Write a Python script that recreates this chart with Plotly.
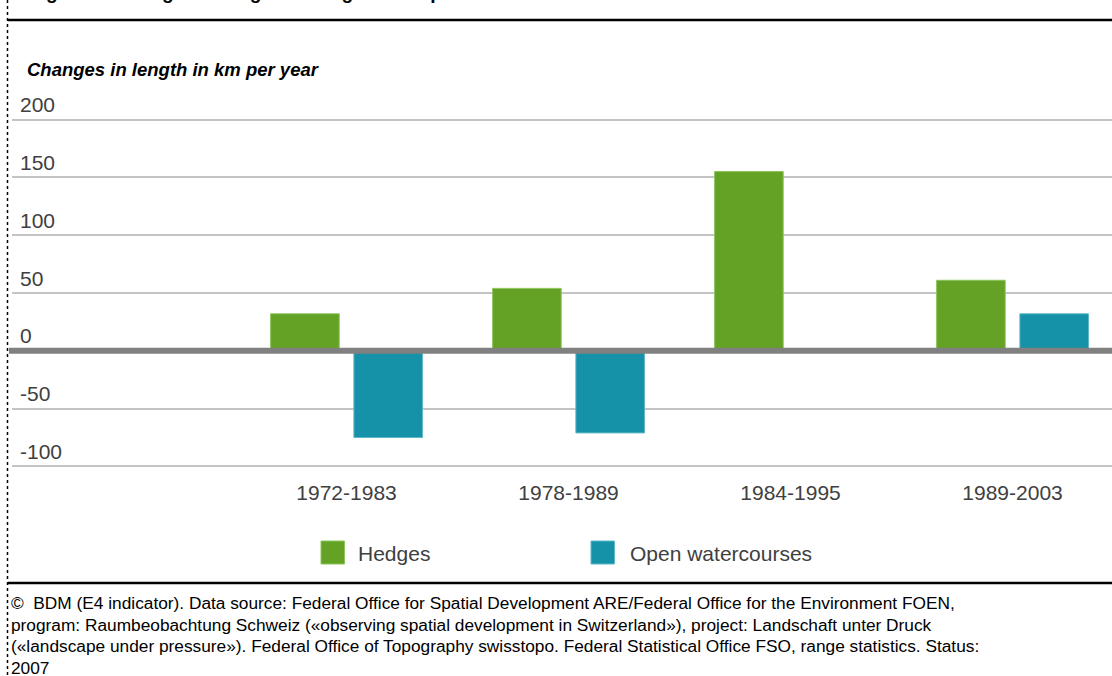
import plotly.graph_objects as go

# ---- data ----
periods = ["1972-1983", "1978-1989", "1984-1995", "1989-2003"]
hedges = [32, 54, 155, 61]
watercourses = [-75, -71, None, 32]
series_names = ["Hedges", "Open watercourses"]
y_ticks = [-100, -50, 0, 50, 100, 150, 200]
y_tick_labels = ["-100", "-50", "0", "50", "100", "150", "200"]

title_text = "Figure 1: Changes in length of hedges and open watercourses"
subtitle_text = "Changes in length in km per year"
footer_lines = [
    "©\u00a0 BDM (E4 indicator). Data source: Federal Office for Spatial Development ARE/Federal Office for the Environment FOEN,",
    "program: Raumbeobachtung Schweiz («observing spatial development in Switzerland»), project: Landschaft unter Druck",
    "(«landscape under pressure»). Federal Office of Topography swisstopo. Federal Statistical Office FSO, range statistics. Status:",
    "2007",
]

GREEN = "#63A225"
TEAL = "#1592A8"
FONT = "Liberation Sans, Arial, sans-serif"
W, H = 1112, 676
ML, MR, MT, MB = 12, 0, 108, 198
PW, PH = W - ML - MR, H - MT - MB


def px(x):
    return (x - ML) / PW


def py(y):
    return (H - MB - y) / PH


fig = go.Figure()
fig.add_trace(go.Bar(x=periods, y=hedges, name=series_names[0],
                     marker=dict(color=GREEN, line=dict(color="#8cc45a", width=1)),
                     showlegend=False))
fig.add_trace(go.Bar(x=periods, y=watercourses, name=series_names[1],
                     marker=dict(color=TEAL, line=dict(color="#5fb8c8", width=1)),
                     showlegend=False))

shapes = []
# zero line drawn above bars
shapes.append(dict(type="line", xref="paper", yref="y", x0=px(9), x1=1, y0=0, y1=0,
                   line=dict(color="#808080", width=6), layer="above"))
# black rules
for yy in (20, 583):
    shapes.append(dict(type="line", xref="paper", yref="paper", x0=px(8), x1=1,
                       y0=py(yy), y1=py(yy), line=dict(color="black", width=2.5)))
# dotted left border
shapes.append(dict(type="line", xref="paper", yref="paper", x0=px(7.5), x1=px(7.5),
                   y0=py(0), y1=py(H), line=dict(color="black", width=1.5, dash="dot")))
# legend squares
legend_items = [(321, GREEN, "#8cc45a", series_names[0], 356),
                (591, TEAL, "#5fb8c8", series_names[1], 628)]
annotations = []
for x0, col, edge, name, tx in legend_items:
    shapes.append(dict(type="rect", xref="paper", yref="paper", x0=px(x0), x1=px(x0 + 23.5),
                       y0=py(564), y1=py(541), fillcolor=col, line=dict(color=edge, width=1)))
    annotations.append(dict(text=name, xref="paper", yref="paper", x=px(tx), y=py(553),
                            xanchor="left", yanchor="middle", showarrow=False,
                            font=dict(family=FONT, size=21, color="#404040")))

# title (cut off at top in reference)
annotations.append(dict(text="<b>" + title_text + "</b>", xref="paper", yref="paper",
                        x=px(27), y=py(-8), xanchor="left", yanchor="middle", showarrow=False,
                        font=dict(family=FONT, size=19, color="black")))
# subtitle
annotations.append(dict(text="<b><i>" + subtitle_text + "</i></b>", xref="paper", yref="paper",
                        x=px(25), y=py(70), xanchor="left", yanchor="middle", showarrow=False,
                        font=dict(family=FONT, size=18.5, color="black")))
# footer
for i, line in enumerate(footer_lines):
    annotations.append(dict(text=line, xref="paper", yref="paper", x=px(9), y=py(603 + 21.7 * i),
                            xanchor="left", yanchor="middle", showarrow=False,
                            font=dict(family=FONT, size=17.3, color="black")))

fig.update_layout(
    width=W, height=H,
    margin=dict(l=ML, r=MR, t=MT, b=MB, pad=0),
    paper_bgcolor="white", plot_bgcolor="white",
    barmode="group", bargap=0.25, bargroupgap=0.176,
    font=dict(family=FONT, size=21, color="#404040"),
    xaxis=dict(type="category", range=[-1.507, 3.448], showgrid=False, zeroline=False,
               showline=False, ticks="", tickfont=dict(size=21, color="#404040")),
    yaxis=dict(range=[-110, 210], tickvals=y_ticks, ticktext=y_tick_labels,
               ticklabelposition="inside top", ticklabelstandoff=5,
               ticklabeloverflow="allow", showgrid=True, gridcolor="#c4c4c4", gridwidth=2,
               zeroline=False, showline=False, ticks="",
               tickfont=dict(size=21, color="#404040")),
    shapes=shapes, annotations=annotations, showlegend=False,
)

fig.write_html(
    "out.html",
    config={"displayModeBar": False},
    post_script="document.body.style.margin='0';document.body.style.overflow='hidden';",
)
